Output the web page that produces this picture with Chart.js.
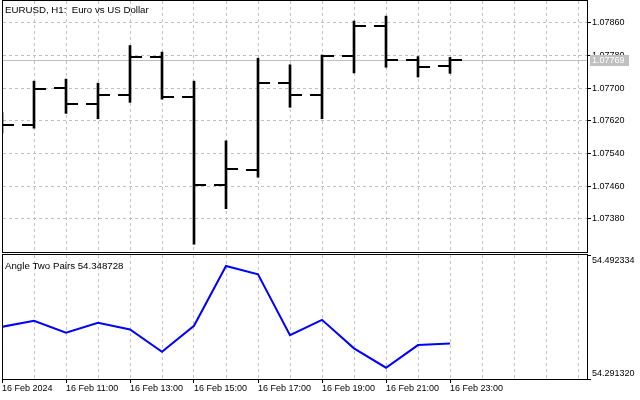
<!DOCTYPE html>
<html>
<head>
<meta charset="utf-8">
<script src="https://cdn.jsdelivr.net/npm/chart.js@4.4.1/dist/chart.umd.min.js"></script>
<style>
    html, body { margin: 0; padding: 0; background: #fff; }
    #wrap { position: relative; width: 640px; height: 400px; overflow: hidden; }
    #priceBox { position: absolute; left: 0; top: 0; width: 640px; height: 254px; }
    #angleBox { position: absolute; left: 0; top: 253px; width: 640px; height: 147px; }
</style>
</head>
<body>
<div id="wrap">
    <div id="priceBox"><canvas id="priceChart"></canvas></div>
    <div id="angleBox"><canvas id="angleChart"></canvas></div>
</div>
<script>
// EURUSD H1, 16 Feb 2024
const hourLabels = ['09:00', '10:00', '11:00', '12:00', '13:00', '14:00', '15:00', '16:00',
    '17:00', '18:00', '19:00', '20:00', '21:00', '22:00', '23:00'];
const opens  = [1.07605, 1.07610, 1.07701, 1.07662, 1.07682, 1.07777, 1.07679, 1.07464,
    1.07500, 1.07712, 1.07683, 1.07779, 1.07852, 1.07769, 1.07755];
const highs  = [1.07640, 1.07717, 1.07722, 1.07712, 1.07804, 1.07788, 1.07717, 1.07571,
    1.07773, 1.07757, 1.07781, 1.07864, 1.07876, 1.07777, 1.07775];
const lows   = [1.07590, 1.07602, 1.07638, 1.07625, 1.07665, 1.07673, 1.07318, 1.07405,
    1.07482, 1.07653, 1.07625, 1.07737, 1.07751, 1.07727, 1.07736];
const closes = [1.07610, 1.07698, 1.07662, 1.07682, 1.07777, 1.07679, 1.07464, 1.07502,
    1.07712, 1.07683, 1.07779, 1.07852, 1.07769, 1.07752, 1.07769];
const currentPrice = 1.07769;

// Angle Two Pairs indicator
const angleValues = [54.37590, 54.38561, 54.36621, 54.38238, 54.37170, 54.33548, 54.37753, 54.47455,
    54.46113, 54.36249, 54.38723, 54.34098, 54.30961, 54.34632, 54.348728];

// axes
const priceTicks = [1.07380, 1.07460, 1.07540, 1.07620, 1.07700, 1.07780, 1.07860];
const priceMin = 1.07299;
const priceMax = 1.07913;
const angleTicks = [54.291320, 54.492334];
const xTickLabels = ['16 Feb 2024', '', '16 Feb 11:00', '', '16 Feb 13:00', '', '16 Feb 15:00', '',
    '16 Feb 17:00', '', '16 Feb 19:00', '', '16 Feb 21:00', '', '16 Feb 23:00'];
// visible hour slots: first bar sits just under the left frame, empty space on the right
const xMin = 0.03125;
const xMax = 18.28125;

const FONT = 'Liberation Sans, Arial, sans-serif';
const GRID = '#c0c0c0';

function hourSlots(scale) {
    const out = [];
    for (let v = 0; v <= Math.floor(scale.max); v++) out.push({ value: v });
    scale.ticks = out;
}

// keep the plot area where the terminal puts it (no label overflow padding)
function fixSize(w, h) {
    return s => {
        if (w !== null) s.width = w;
        if (h !== null) s.height = h;
        s.paddingTop = 0;
        s.paddingBottom = 0;
        s.paddingLeft = 0;
        s.paddingRight = 0;
    };
}

const framePlugin = {
    id: 'frame',
    afterDraw(chart) {
        const { ctx, chartArea: a } = chart;
        ctx.save();
        ctx.strokeStyle = '#000';
        ctx.lineWidth = 1;
        ctx.strokeRect(a.left - 0.5, a.top - 0.5, a.right - a.left + 1, a.bottom - a.top + 1);
        ctx.restore();
    }
};

function captionPlugin(text, y) {
    return {
        id: 'caption',
        afterDraw(chart) {
            const { ctx, chartArea: a } = chart;
            ctx.save();
            ctx.font = '9.7px ' + FONT;
            ctx.fillStyle = '#000';
            ctx.textBaseline = 'alphabetic';
            ctx.fillText(text, a.left + 2, y);
            ctx.restore();
        }
    };
}

// open / close ticks of the OHLC bars, placed through the chart scales
const ohlcTicks = {
    id: 'ohlcTicks',
    afterDatasetsDraw(chart) {
        const { ctx, chartArea: a, scales: { x, y } } = chart;
        ctx.save();
        ctx.beginPath();
        ctx.rect(a.left, a.top, a.right - a.left, a.bottom - a.top);
        ctx.clip();
        ctx.fillStyle = '#000';
        opens.forEach((o, i) => {
            const px = Math.round(x.getPixelForValue(i));
            const yo = Math.round(y.getPixelForValue(o));
            const yc = Math.round(y.getPixelForValue(closes[i]));
            ctx.fillRect(px - 12, yo - 1, 11, 2);
            ctx.fillRect(px, yc - 1, 12, 2);
        });
        ctx.restore();
    }
};

const priceLine = {
    id: 'priceLine',
    beforeDatasetsDraw(chart) {
        const { ctx, chartArea: a, scales: { y } } = chart;
        const py = Math.round(y.getPixelForValue(currentPrice)) + 0.5;
        ctx.save();
        ctx.strokeStyle = GRID;
        ctx.lineWidth = 1;
        ctx.beginPath();
        ctx.moveTo(a.left, py);
        ctx.lineTo(a.right, py);
        ctx.stroke();
        ctx.restore();
    },
    afterDraw(chart) {
        const { ctx, chartArea: a, scales: { y } } = chart;
        const py = Math.round(y.getPixelForValue(currentPrice));
        ctx.save();
        ctx.fillStyle = GRID;
        ctx.fillRect(a.right + 3, py - 5, 39, 11);
        ctx.fillStyle = '#fff';
        ctx.font = '9px ' + FONT;
        ctx.textBaseline = 'middle';
        ctx.fillText(currentPrice.toFixed(5), a.right + 5, py + 1);
        ctx.restore();
    }
};

new Chart(document.getElementById('priceChart'), {
    type: 'bar',
    data: {
        datasets: [{
            label: 'EURUSD',
            data: hourLabels.map((h, i) => ({ x: i, y: [lows[i], highs[i]] })),
            backgroundColor: '#000',
            barThickness: 2,
            borderWidth: 0,
            clip: 0
        }]
    },
    options: {
        animation: false,
        responsive: true,
        maintainAspectRatio: false,
        layout: { padding: { left: 3, top: 1, right: 0, bottom: 2 } },
        plugins: {
            legend: { display: false },
            tooltip: { enabled: false }
        },
        scales: {
            x: {
                type: 'linear',
                offset: false,
                min: xMin,
                max: xMax,
                afterBuildTicks: hourSlots,
                afterFit: fixSize(null, 0),
                ticks: { display: false },
                grid: { color: GRID, drawTicks: false, offset: false },
                border: { display: false, dash: [3, 3] }
            },
            y: {
                position: 'right',
                min: priceMin,
                max: priceMax,
                afterBuildTicks: s => { s.ticks = priceTicks.map(v => ({ value: v })); },
                afterFit: fixSize(53, null),
                ticks: {
                    color: '#000',
                    padding: 1,
                    font: { family: FONT, size: 9 },
                    callback: v => v.toFixed(5)
                },
                grid: { color: GRID, tickColor: '#000', tickLength: 4 },
                border: { display: false, dash: [3, 3] }
            }
        }
    },
    plugins: [priceLine, ohlcTicks, framePlugin, captionPlugin('EURUSD, H1:  Euro vs US Dollar', 13)]
});

new Chart(document.getElementById('angleChart'), {
    type: 'line',
    data: {
        datasets: [{
            label: 'Angle Two Pairs',
            data: angleValues.map((v, i) => ({ x: i, y: v })),
            borderColor: '#0000ff',
            borderWidth: 2,
            pointRadius: 0,
            tension: 0,
            fill: false
        }]
    },
    options: {
        animation: false,
        responsive: true,
        maintainAspectRatio: false,
        layout: { padding: { left: 3, top: 2, right: 0, bottom: 0 } },
        plugins: {
            legend: { display: false },
            tooltip: { enabled: false }
        },
        scales: {
            x: {
                type: 'linear',
                offset: false,
                min: xMin,
                max: xMax,
                afterBuildTicks: hourSlots,
                afterFit: fixSize(null, 21),
                ticks: {
                    color: '#000',
                    align: 'start',
                    autoSkip: false,
                    maxRotation: 0,
                    padding: 0,
                    font: { family: FONT, size: 9 },
                    callback: v => xTickLabels[v] || ''
                },
                grid: {
                    color: GRID,
                    offset: false,
                    tickLength: 4,
                    tickColor: c => (c.tick && xTickLabels[c.tick.value]) ? '#000' : 'rgba(0,0,0,0)'
                },
                border: { display: false, dash: [3, 3] }
            },
            y: {
                position: 'right',
                min: angleTicks[0],
                max: angleTicks[1],
                afterBuildTicks: s => { s.ticks = angleTicks.map(v => ({ value: v })); },
                afterFit: fixSize(53, null),
                ticks: {
                    color: '#000',
                    padding: 1,
                    font: { family: FONT, size: 9 },
                    callback: (v, i) => i === 0 ? [v.toFixed(6), ''] : ['', v.toFixed(6)]
                },
                grid: { drawOnChartArea: false, tickColor: '#000', tickLength: 4 },
                border: { display: false }
            }
        }
    },
    plugins: [framePlugin, captionPlugin('Angle Two Pairs ' + angleValues[angleValues.length - 1].toFixed(6), 16)]
});
</script>
</body>
</html>
